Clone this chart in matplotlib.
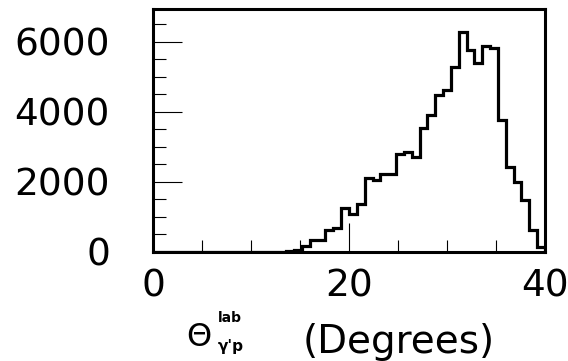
import matplotlib.pyplot as plt
import numpy as np
from matplotlib.ticker import MultipleLocator

# 50 bins of 0.8 degrees between 0 and 40
bin_edges = np.linspace(0, 40, 51)
counts = [
	0, 0, 0, 0, 0, 0, 0, 0, 0, 0,
	0, 0, 0, 0, 0, 0, 0, 40, 70, 170,
	340, 350, 620, 690, 1270, 1090, 1380, 2110, 2070, 2230,
	2240, 2800, 2860, 2700, 3550, 3900, 4470, 4620, 5280, 6270,
	5760, 5400, 5890, 5820, 3760, 2440, 1990, 1490, 620, 150,
]

x_ticks = [0, 20, 40]
x_tick_labels = ['0', '20', '40']
y_ticks = [0, 2000, 4000, 6000]
y_tick_labels = ['0', '2000', '4000', '6000']


def px(x, y):
	# pixel position (from top-left) -> figure fraction
	return x / 568, 1 - y / 361


if __name__ == "__main__":
	plt.rcParams['font.family'] = 'DejaVu Sans'

	fig = plt.figure(figsize=(5.68, 3.61), dpi=100)
	ax = fig.add_axes([153 / 568, 1 - 252 / 361, 392 / 568, 243 / 361])

	ax.stairs(counts, bin_edges, color='black', linewidth=2.3, baseline=0)

	ax.set_xlim(0, 40)
	ax.set_ylim(0, 6940)

	ax.set_xticks(x_ticks, labels=x_tick_labels)
	ax.set_yticks(y_ticks, labels=y_tick_labels)
	ax.xaxis.set_minor_locator(MultipleLocator(5))
	ax.yaxis.set_minor_locator(MultipleLocator(500))

	ax.tick_params(which='major', direction='in', length=21, width=0.8, labelsize=27)
	ax.tick_params(which='minor', direction='in', length=9, width=0.8)
	ax.tick_params(axis='y', which='major', pad=31)
	ax.tick_params(axis='x', which='major', pad=12)

	for spine in ax.spines.values():
		spine.set_linewidth(2.2)

	# axis title: theta with "lab" above and gamma'p below
	fig.text(*px(186, 346), 'Θ', fontsize=23, va='baseline')
	fig.text(*px(218, 322), 'lab', fontsize=10, weight='bold', va='baseline')
	fig.text(*px(218, 351), "γ'p", fontsize=11, weight='bold', va='baseline')
	fig.text(*px(303, 353), '(Degrees)', fontsize=28, va='baseline')

	plt.savefig('out.png', dpi=100)
